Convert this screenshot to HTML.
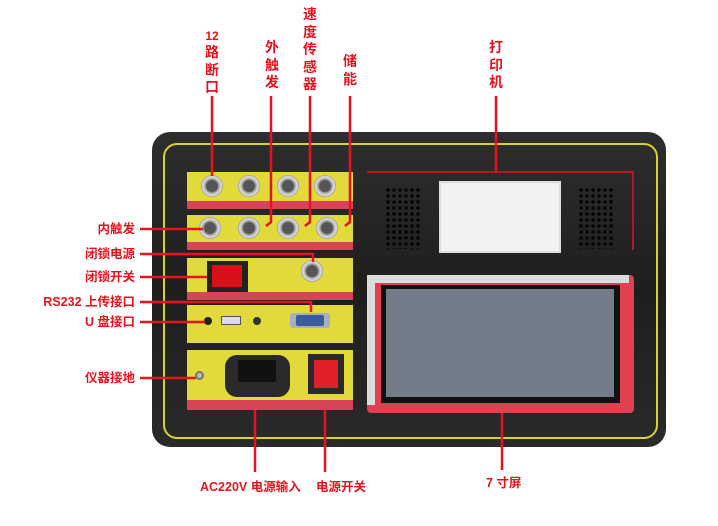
<!DOCTYPE html>
<html><head><meta charset="utf-8"><style>
*{margin:0;padding:0;box-sizing:border-box}
body{width:718px;height:526px;background:#fff;position:relative;overflow:hidden;font-family:"Liberation Sans","Noto Sans CJK SC",sans-serif}
.a{position:absolute}
.t{position:absolute;color:#e3141c;font-weight:bold;font-size:12.5px;line-height:14px;white-space:nowrap}
.v{position:absolute;color:#e3141c;font-weight:bold;font-size:14px;line-height:17.5px;width:18px;text-align:center}
.y{position:absolute;background:#e2d93a}
.p{position:absolute;background:#d9435a;height:8px;left:0;right:0;bottom:0}
.c{position:absolute;width:22px;height:22px;border-radius:50%;background:radial-gradient(circle,#555 0 35%,#aaa 45%,#e0e0e0 60%,#777 75%,#333 100%)}
.spk{position:absolute;width:36px;height:62px;background-image:radial-gradient(circle,#050505 1.6px,transparent 2px);background-size:6px 6px}
</style></head><body>
<!-- device -->
<div class="a" style="left:152px;top:132px;width:514px;height:315px;background:linear-gradient(180deg,#2e2e2e,#1e1e1e 50%,#2a2a2a);border-radius:18px"></div>
<div class="a" style="left:163px;top:143px;width:495px;height:296px;border:2px solid #d8d230;border-radius:14px"></div>
<!-- left panels -->
<div class="y" style="left:187px;top:172px;width:166px;height:37px"><div class="p"></div></div>
<div class="y" style="left:187px;top:215px;width:166px;height:35px"><div class="p"></div></div>
<div class="y" style="left:187px;top:258px;width:166px;height:42px"><div class="p"></div></div>
<div class="y" style="left:187px;top:305px;width:166px;height:38px"></div>
<div class="y" style="left:187px;top:350px;width:166px;height:60px"><div class="p" style="height:10px"></div></div>
<div class="c" style="left:201px;top:175px"></div><div class="c" style="left:238px;top:175px"></div><div class="c" style="left:277px;top:175px"></div><div class="c" style="left:314px;top:175px"></div>
<div class="c" style="left:199px;top:217px"></div><div class="c" style="left:238px;top:217px"></div><div class="c" style="left:277px;top:217px"></div><div class="c" style="left:316px;top:217px"></div>
<div class="c" style="left:301px;top:260px"></div>
<div class="a" style="left:207px;top:261px;width:41px;height:31px;background:#222"></div>
<div class="a" style="left:212px;top:265px;width:30px;height:22px;background:#d8101c"></div>
<!-- panel 4 -->
<div class="a" style="left:204px;top:317px;width:8px;height:8px;border-radius:50%;background:#222"></div>
<div class="a" style="left:221px;top:316px;width:20px;height:9px;background:#ddd;border:1px solid #555"></div>
<div class="a" style="left:253px;top:317px;width:8px;height:8px;border-radius:50%;background:#333"></div>
<div class="a" style="left:290px;top:313px;width:40px;height:15px;background:#a8b0c0;border-radius:3px"></div>
<div class="a" style="left:296px;top:315px;width:28px;height:11px;background:#3a5c9a;border-radius:2px"></div>
<!-- panel 5 -->
<div class="a" style="left:195px;top:371px;width:9px;height:9px;border-radius:50%;background:#bbb;border:2px solid #777"></div>
<div class="a" style="left:225px;top:355px;width:65px;height:42px;background:#2a2a2a;border-radius:12px"></div>
<div class="a" style="left:238px;top:360px;width:38px;height:22px;background:#111"></div>
<div class="a" style="left:308px;top:354px;width:36px;height:40px;background:#2a2a2a"></div>
<div class="a" style="left:314px;top:360px;width:24px;height:28px;background:#e0202a"></div>
<!-- right side -->
<div class="spk" style="left:385px;top:187px"></div>
<div class="spk" style="left:578px;top:187px"></div>
<div class="a" style="left:439px;top:181px;width:122px;height:72px;background:#f2f2f2;border:2px solid #ddd"></div>
<div class="a" style="left:367px;top:275px;width:267px;height:138px;background:#e04050;border-radius:4px"></div>
<div class="a" style="left:367px;top:275px;width:262px;height:8px;background:#dcdcdc"></div>
<div class="a" style="left:367px;top:275px;width:8px;height:130px;background:#dcdcdc"></div>
<div class="a" style="left:381px;top:285px;width:239px;height:118px;background:#111"></div>
<div class="a" style="left:386px;top:289px;width:228px;height:108px;background:#727d89"></div>
<svg class="a" style="left:0;top:0" width="718" height="526">
<g stroke="#e3141c" stroke-width="2.5" fill="none">
<polyline points="367,172 633,172 633,250" stroke-width="1.5"/>
<line x1="212" y1="96" x2="212" y2="176"/>
<polyline points="271,96 271,222 266,226"/>
<polyline points="310,96 310,222 305,226"/>
<polyline points="350,96 350,222 345,226"/>
<line x1="496" y1="96" x2="496" y2="172"/>
<line x1="140" y1="229" x2="203" y2="229"/>
<polyline points="140,254 313,254 313,262"/>
<line x1="140" y1="277" x2="207" y2="277"/>
<polyline points="140,302 311,302 311,312"/>
<line x1="140" y1="322" x2="205" y2="322"/>
<line x1="140" y1="378" x2="196" y2="378"/>
<line x1="255" y1="410" x2="255" y2="472"/>
<line x1="325" y1="410" x2="325" y2="472"/>
<line x1="502" y1="413" x2="502" y2="470"/>
</g></svg>
<!-- vertical labels -->
<div class="v" style="left:203px;top:28px;font-size:12px">12</div>
<div class="v" style="left:203px;top:44px">路<br>断<br>口</div>
<div class="v" style="left:263px;top:39px">外<br>触<br>发</div>
<div class="v" style="left:301px;top:6px">速<br>度<br>传<br>感<br>器</div>
<div class="v" style="left:341px;top:53px">储<br>能</div>
<div class="v" style="left:487px;top:39px">打<br>印<br>机</div>
<!-- left labels -->
<div class="t" style="right:583px;top:222px">内触发</div>
<div class="t" style="right:583px;top:247px">闭锁电源</div>
<div class="t" style="right:583px;top:270px">闭锁开关</div>
<div class="t" style="right:583px;top:295px">RS232 上传接口</div>
<div class="t" style="right:583px;top:315px">U 盘接口</div>
<div class="t" style="right:583px;top:371px">仪器接地</div>
<div class="t" style="left:200px;top:480px">AC220V 电源输入</div>
<div class="t" style="left:316px;top:480px">电源开关</div>
<div class="t" style="left:486px;top:476px">7 寸屏</div>
</body></html>
